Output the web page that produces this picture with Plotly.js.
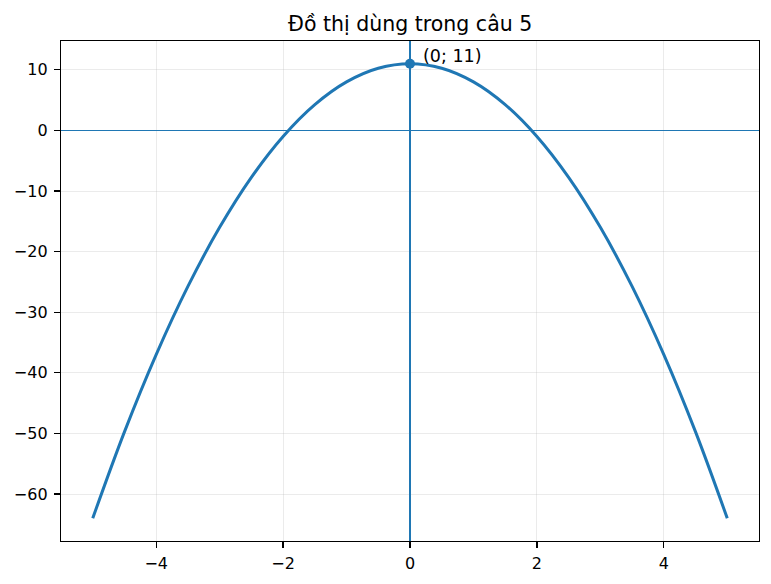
<!DOCTYPE html>
<html>
<head>
<meta charset="utf-8">
<script src="https://cdn.plot.ly/plotly-3.0.1.min.js"></script>
<style>
  html, body { margin: 0; padding: 0; background: #fff; }
  #chart { width: 771px; height: 584px; }
</style>
</head>
<body>
<div id="chart"></div>
<script>
// values
const xs = [-5, -4.5, -4, -3.5, -3, -2.5, -2, -1.5, -1, -0.5, 0, 0.5, 1, 1.5, 2, 2.5, 3, 3.5, 4, 4.5, 5];
const ys = [-64, -49.75, -37, -25.75, -16, -7.75, -1, 4.25, 8, 10.25, 11, 10.25, 8, 4.25, -1, -7.75, -16, -25.75, -37, -49.75, -64];
const peakX = [0];
const peakY = [11];
const peakLabel = '(0; 11)';
const xTicks = [-4, -2, 0, 2, 4];
const yTicks = [10, 0, -10, -20, -30, -40, -50, -60];

const blue = '#1f77b4';
const font = { family: 'DejaVu Sans', size: 16, color: '#000' };
const fmt = v => (v < 0 ? '\u2212' + Math.abs(v) : String(v));

const curve = {
  x: xs, y: ys,
  mode: 'lines',
  line: { color: blue, width: 3, shape: 'spline' },
  hoverinfo: 'skip'
};
const peak = {
  x: peakX, y: peakY,
  mode: 'markers',
  marker: { color: blue, size: 10 }
};

const axisBase = {
  showline: true, mirror: true, linecolor: '#000', linewidth: 1.2,
  ticks: 'outside', ticklen: 6, tickcolor: '#000', tickwidth: 1.2,
  showgrid: true, gridcolor: 'rgba(176,176,176,0.25)', gridwidth: 1,
  zeroline: true, zerolinecolor: blue, zerolinewidth: 1.3,
  tickfont: font
};

const layout = {
  width: 771, height: 584,
  margin: { l: 61, r: 12, t: 41, b: 43 },
  paper_bgcolor: '#fff', plot_bgcolor: '#fff',
  showlegend: false,
  font: font,
  title: {
    text: 'Đồ thị dùng trong câu 5',
    font: { family: 'DejaVu Sans', size: 20.5, color: '#000' },
    x: 0.532, xanchor: 'center', y: 0.96, yanchor: 'middle'
  },
  xaxis: Object.assign({}, axisBase, {
    range: [-5.5, 5.5], tickvals: xTicks, ticktext: xTicks.map(fmt),
    ticklabelstandoff: 2
  }),
  yaxis: Object.assign({}, axisBase, {
    range: [-67.75, 14.75], tickvals: yTicks, ticktext: yTicks.map(fmt),
    ticklabelstandoff: 3
  }),
  annotations: [{
    x: peakX[0], y: peakY[0], text: peakLabel,
    showarrow: false, xanchor: 'left', yanchor: 'middle',
    xshift: 11, yshift: 8,
    font: { family: 'DejaVu Sans', size: 17.5, color: '#000' }
  }]
};

Plotly.newPlot('chart', [curve, peak], layout, { displayModeBar: false, staticPlot: true });
</script>
</body>
</html>
